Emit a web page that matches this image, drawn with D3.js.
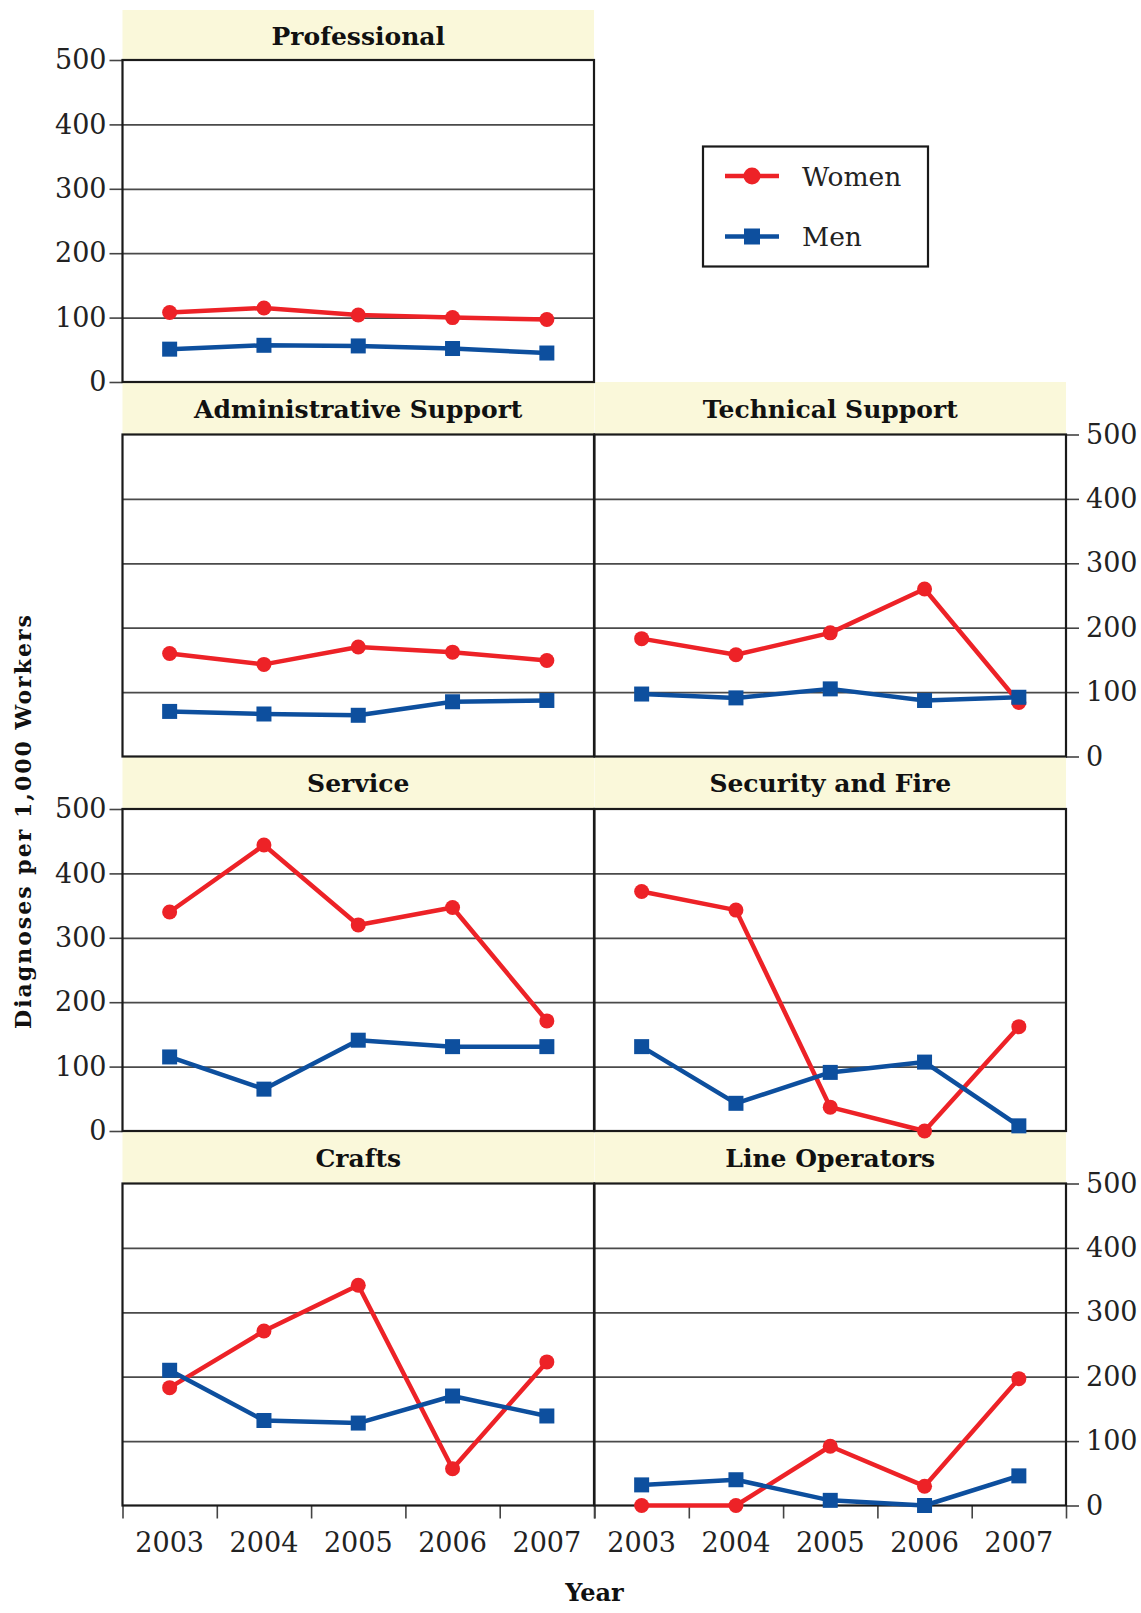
<!DOCTYPE html>
<html><head><meta charset="utf-8">
<script src="https://cdn.jsdelivr.net/npm/d3@7"></script>
<style>
html,body{margin:0;padding:0;background:#fff;}
svg{display:block;}
</style></head>
<body>
<svg id="chart" width="1141" height="1613"></svg>
<script>
// ---- data ----
const years = ["2003", "2004", "2005", "2006", "2007"];
const yTicks = [0, 100, 200, 300, 400, 500];
const gridValues = [100, 200, 300, 400];
const seriesNames = ["Women", "Men"];
const panelTitles = ["Professional", "Administrative Support", "Technical Support", "Service", "Security and Fire", "Crafts", "Line Operators"];

const womenProfessional = [108, 115, 104, 100, 97];
const menProfessional   = [51, 57, 56, 52, 45];
const womenAdministrative = [160, 143, 170, 162, 149];
const menAdministrative   = [70, 66, 64, 85, 87];
const womenTechnical = [183, 158, 192, 260, 84];
const menTechnical   = [97, 91, 105, 87, 92];
const womenService = [340, 444, 320, 347, 171];
const menService   = [115, 65, 141, 131, 131];
const womenSecurity = [372, 343, 37, 0, 162];
const menSecurity   = [131, 43, 91, 107, 8];
const womenCrafts = [183, 271, 342, 57, 223];
const menCrafts   = [210, 132, 128, 170, 139];
const womenLineOps = [0, 0, 92, 30, 197];
const menLineOps   = [32, 40, 8, 0, 46];

// ---- layout ----
const RED = "#ED2227", BLUE = "#0D4F9E", STRIP = "#FAF8DA";
const colX = [122.5, 594.5];
const plotW = 471.5;
const rowTop = [60, 434.5, 809, 1183.5];
const plotH = 322;
const stripTopRow0 = 10;
const serif = "'DejaVu Serif', serif";

const panels = [
  {title: panelTitles[0], row: 0, col: 0, axis: "left",  women: womenProfessional,   men: menProfessional},
  {title: panelTitles[1], row: 1, col: 0, axis: null,    women: womenAdministrative, men: menAdministrative},
  {title: panelTitles[2], row: 1, col: 1, axis: "right", women: womenTechnical,      men: menTechnical},
  {title: panelTitles[3], row: 2, col: 0, axis: "left",  women: womenService,        men: menService},
  {title: panelTitles[4], row: 2, col: 1, axis: null,    women: womenSecurity,       men: menSecurity},
  {title: panelTitles[5], row: 3, col: 0, axis: null,    women: womenCrafts,         men: menCrafts},
  {title: panelTitles[6], row: 3, col: 1, axis: "right", women: womenLineOps,        men: menLineOps}
];

const svg = d3.select("#chart");
const gStrips = svg.append("g");
const gPanels = svg.append("g");
const gData = svg.append("g");

panels.forEach(p => {
  const x0 = colX[p.col], top = rowTop[p.row];
  const stripTop = p.row === 0 ? stripTopRow0 : rowTop[p.row - 1] + plotH;
  const x = d3.scaleBand().domain(years).range([x0, x0 + plotW]);
  const y = d3.scaleLinear().domain([0, 500]).range([top + plotH, top]);
  p.x = x; p.y = y;

  // strip
  gStrips.append("rect").attr("x", x0).attr("y", stripTop)
    .attr("width", plotW).attr("height", top - stripTop).attr("fill", STRIP);
  gStrips.append("text").attr("x", x0 + plotW / 2).attr("y", (stripTop + top) / 2 + 1)
    .attr("text-anchor", "middle").attr("dominant-baseline", "central")
    .style("font-family", serif).style("font-weight", "bold").style("font-size", "25px")
    .attr("fill", "#111").text(p.title);

  const g = gPanels.append("g");
  g.append("rect").attr("x", x0).attr("y", top).attr("width", plotW).attr("height", plotH).attr("fill", "#fff");

  // gridlines
  const grid = g.append("g").attr("transform", `translate(${x0},0)`)
    .call(d3.axisLeft(y).tickValues(gridValues).tickSize(-plotW).tickFormat(""));
  grid.select(".domain").remove();
  grid.selectAll("line").attr("stroke", "#4a4a4a").attr("stroke-width", 1.7);

  // y axis
  if (p.axis) {
    const ax = p.axis === "left"
      ? d3.axisLeft(y).tickValues(yTicks).tickSize(13).tickPadding(3)
      : d3.axisRight(y).tickValues(yTicks).tickSize(13).tickPadding(7);
    const ag = g.append("g").attr("transform", `translate(${p.axis === "left" ? x0 : x0 + plotW},0)`).call(ax);
    ag.select(".domain").remove();
    ag.selectAll("line").attr("stroke", "#444").attr("stroke-width", 1.6);
    ag.selectAll("text").style("font-family", serif).style("font-size", "27px").attr("fill", "#222");
  }

  // bottom axis on last row
  if (p.row === 3) {
    const bl = d3.scaleLinear().domain([0, years.length]).range([x0, x0 + plotW]);
    const tg = g.append("g").attr("transform", `translate(0,${top + plotH})`)
      .call(d3.axisBottom(bl).tickValues(d3.range(years.length + 1)).tickSize(13).tickFormat(""));
    tg.select(".domain").remove();
    tg.selectAll("line").attr("stroke", "#444").attr("stroke-width", 1.6);
    const lg = g.append("g").attr("transform", `translate(0,${top + plotH})`)
      .call(d3.axisBottom(x).tickSize(0).tickPadding(27));
    lg.select(".domain").remove();
    lg.selectAll("text").style("font-family", serif).style("font-size", "27px").attr("fill", "#222");
  }

  // border
  g.append("rect").attr("x", x0).attr("y", top).attr("width", plotW).attr("height", plotH)
    .attr("fill", "none").attr("stroke", "#1a1a1a").attr("stroke-width", 2.2);
});

// data
const line = (p, vals) => d3.line().x((d, i) => p.x(years[i]) + p.x.bandwidth() / 2).y(d => p.y(d))(vals);
panels.forEach(p => {
  const g = gData.append("g");
  g.append("path").attr("d", line(p, p.women)).attr("fill", "none").attr("stroke", RED)
    .attr("stroke-width", 4.5).attr("stroke-linejoin", "round");
  g.selectAll(".wc").data(p.women).join("circle")
    .attr("cx", (d, i) => p.x(years[i]) + p.x.bandwidth() / 2).attr("cy", d => p.y(d))
    .attr("r", 7.5).attr("fill", RED);
  g.append("path").attr("d", line(p, p.men)).attr("fill", "none").attr("stroke", BLUE)
    .attr("stroke-width", 4.5).attr("stroke-linejoin", "round");
  const s = 15;
  g.selectAll(".ms").data(p.men).join("rect")
    .attr("x", (d, i) => p.x(years[i]) + p.x.bandwidth() / 2 - s / 2).attr("y", d => p.y(d) - s / 2)
    .attr("width", s).attr("height", s).attr("fill", BLUE);
});

// legend
const lgd = svg.append("g");
lgd.append("rect").attr("x", 703).attr("y", 146.5).attr("width", 225).attr("height", 120)
  .attr("fill", "#fff").attr("stroke", "#1a1a1a").attr("stroke-width", 2.2);
[[seriesNames[0], RED, 176], [seriesNames[1], BLUE, 236.5]].forEach(([name, col, ly], i) => {
  lgd.append("line").attr("x1", 725).attr("x2", 779).attr("y1", ly).attr("y2", ly)
    .attr("stroke", col).attr("stroke-width", 4.5);
  if (i === 0) lgd.append("circle").attr("cx", 752).attr("cy", ly).attr("r", 8.5).attr("fill", col);
  else lgd.append("rect").attr("x", 752 - 8).attr("y", ly - 8).attr("width", 16).attr("height", 16).attr("fill", col);
  lgd.append("text").attr("x", 802).attr("y", ly).attr("dominant-baseline", "central")
    .style("font-family", serif).style("font-size", "26.5px").attr("fill", "#222").text(name);
});

// axis titles
svg.append("text").attr("transform", "translate(31,821) rotate(-90)")
  .attr("text-anchor", "middle").style("font-family", serif).style("font-weight", "bold")
  .style("font-size", "22px").style("letter-spacing", "2px").attr("fill", "#111")
  .text("Diagnoses per 1,000 Workers");
svg.append("text").attr("x", colX[1]).attr("y", 1601)
  .attr("text-anchor", "middle").style("font-family", serif).style("font-weight", "bold")
  .style("font-size", "24px").attr("fill", "#111").text("Year");
</script>
</body></html>
